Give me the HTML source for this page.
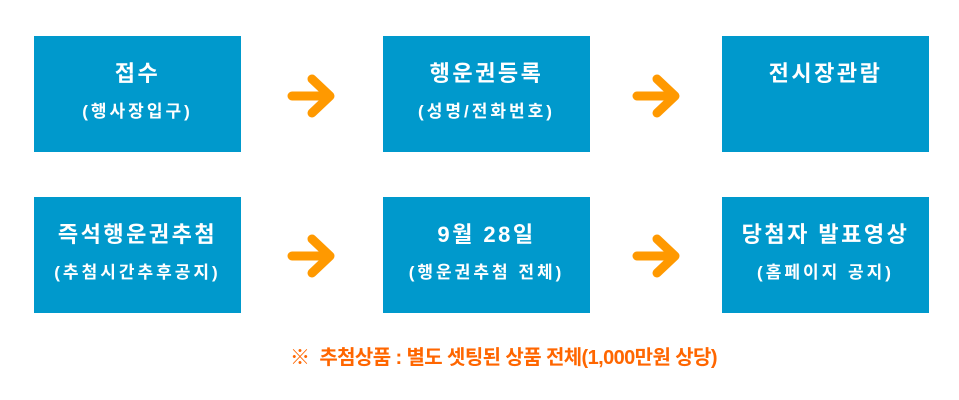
<!DOCTYPE html>
<html><head><meta charset="utf-8"><style>
body{margin:0;width:959px;height:400px;background:#fff;position:relative;overflow:hidden;font-family:"Liberation Sans","Noto Sans CJK KR",sans-serif}
.b{position:absolute;width:207px;height:116px;background:#0099cc;color:#fff;text-align:center;font-weight:bold}
.t{position:absolute;left:0;right:0;top:24px;font-size:22px;letter-spacing:2.5px;line-height:28px}
.s{position:absolute;left:0;right:0;top:63px;font-size:17px;letter-spacing:3px;line-height:26px}
svg{position:absolute}
.n{position:absolute;left:290px;top:341px;font-size:20px;font-weight:bold;color:#ff6600;letter-spacing:-0.6px;white-space:nowrap}
</style></head><body>
<div class="b" style="left:34px;top:36px"><div class="t">접수</div><div class="s">(행사장입구)</div></div>
<div class="b" style="left:383px;top:36px"><div class="t">행운권등록</div><div class="s">(성명/전화번호)</div></div>
<div class="b" style="left:722px;top:36px"><div class="t">전시장관람</div></div>
<div class="b" style="left:34px;top:197px"><div class="t">즉석행운권추첨</div><div class="s">(추첨시간추후공지)</div></div>
<div class="b" style="left:383px;top:197px"><div class="t">9월 28일</div><div class="s">(행운권추첨 전체)</div></div>
<div class="b" style="left:722px;top:197px"><div class="t">당첨자 발표영상</div><div class="s">(홈페이지 공지)</div></div>
<svg width="959" height="400" viewBox="0 0 959 400" style="left:0;top:0">
<g stroke="#ff9900" stroke-width="9" stroke-linecap="round" stroke-linejoin="round" fill="none">
<path d="M292 96H328M312 79L330 96L312 113"/>
<path d="M637 96H673M657 79L675 96L657 113"/>
<path d="M292 256H328M312 239L330 256L312 273"/>
<path d="M637 256H673M657 239L675 256L657 273"/>
</g></svg>
<div class="n">※ &nbsp;추첨상품 : 별도 셋팅된 상품 전체(1,000만원 상당)</div>
</body></html>
